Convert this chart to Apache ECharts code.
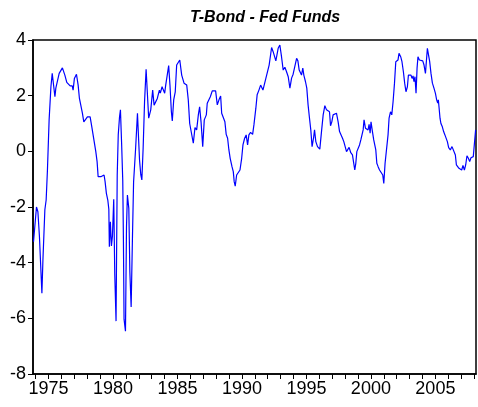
<!DOCTYPE html>
<html>
<head>
  <meta charset="utf-8">
  <title>T-Bond - Fed Funds</title>
  <script src="https://cdn.jsdelivr.net/npm/echarts@6/dist/echarts.min.js"></script>
  <style>
    html, body { margin: 0; padding: 0; background: #fff; }
  </style>
</head>
<body>
  <div id="main" style="width:478px;height:407px;"></div>
  <script type="text/javascript">
    // dates as decimal years, spread in percentage points
    var dates = [
      1973.84, 1974.07, 1974.18, 1974.30, 1974.49, 1974.57, 1974.72, 1974.82, 1974.92, 1975.05,
      1975.19, 1975.29, 1975.36, 1975.50, 1975.57, 1975.70, 1975.83, 1975.96, 1976.08, 1976.27,
      1976.42, 1976.55, 1976.68, 1976.84, 1976.91, 1977.01, 1977.17, 1977.30, 1977.40, 1977.51,
      1977.63, 1977.74, 1977.87, 1978.02, 1978.23, 1978.36, 1978.48, 1978.67, 1978.77, 1978.85,
      1978.95, 1979.06, 1979.21, 1979.31, 1979.39, 1979.49, 1979.60, 1979.68, 1979.72, 1979.80,
      1979.88, 1979.96, 1980.06, 1980.14, 1980.24, 1980.33, 1980.41, 1980.51, 1980.58, 1980.67,
      1980.76, 1980.81, 1980.86, 1980.97, 1981.05, 1981.12, 1981.23, 1981.31, 1981.41, 1981.52,
      1981.60, 1981.68, 1981.75, 1981.83, 1981.90, 1981.98, 1982.06, 1982.16, 1982.24, 1982.34,
      1982.45, 1982.57, 1982.77, 1982.93, 1983.08, 1983.19, 1983.29, 1983.44, 1983.60, 1983.67,
      1983.81, 1983.91, 1984.01, 1984.09, 1984.22, 1984.32, 1984.42, 1984.53, 1984.60, 1984.71,
      1984.83, 1984.94, 1985.07, 1985.18, 1985.33, 1985.51, 1985.72, 1985.84, 1985.95, 1986.05,
      1986.23, 1986.36, 1986.49, 1986.62, 1986.72, 1986.83, 1986.96, 1987.08, 1987.24, 1987.31,
      1987.44, 1987.55, 1987.70, 1987.83, 1987.96, 1988.09, 1988.22, 1988.35, 1988.43, 1988.55,
      1988.68, 1988.78, 1988.89, 1988.99, 1989.09, 1989.23, 1989.33, 1989.40, 1989.48, 1989.59,
      1989.71, 1989.85, 1989.98, 1990.08, 1990.21, 1990.33, 1990.44, 1990.54, 1990.67, 1990.83,
      1990.93, 1991.08, 1991.18, 1991.32, 1991.45, 1991.55, 1991.63, 1991.73, 1991.86, 1991.99,
      1992.11, 1992.22, 1992.30, 1992.42, 1992.53, 1992.63, 1992.73, 1992.81, 1992.94, 1993.07,
      1993.20, 1993.33, 1993.46, 1993.59, 1993.72, 1993.85, 1993.97, 1994.10, 1994.24, 1994.34,
      1994.44, 1994.51, 1994.62, 1994.72, 1994.80, 1994.93, 1995.03, 1995.13, 1995.24, 1995.34,
      1995.44, 1995.55, 1995.63, 1995.73, 1995.86, 1996.04, 1996.17, 1996.30, 1996.43, 1996.56,
      1996.68, 1996.79, 1996.87, 1996.97, 1997.07, 1997.20, 1997.33, 1997.46, 1997.57, 1997.69,
      1997.80, 1997.90, 1998.00, 1998.11, 1998.21, 1998.31, 1998.44, 1998.57, 1998.65, 1998.75,
      1998.83, 1998.91, 1999.01, 1999.12, 1999.22, 1999.32, 1999.40, 1999.47, 1999.58, 1999.68,
      1999.78, 1999.86, 1999.94, 2000.01, 2000.12, 2000.22, 2000.30, 2000.38, 2000.46, 2000.56,
      2000.67, 2000.82, 2000.92, 2001.00, 2001.10, 2001.23, 2001.33, 2001.41, 2001.52, 2001.62,
      2001.72, 2001.83, 2001.93, 2002.01, 2002.10, 2002.18, 2002.31, 2002.41, 2002.52, 2002.62,
      2002.72, 2002.83, 2002.91, 2003.01, 2003.11, 2003.19, 2003.27, 2003.34, 2003.42, 2003.50,
      2003.58, 2003.65, 2003.76, 2003.89, 2004.02, 2004.12, 2004.23, 2004.31, 2004.38, 2004.46,
      2004.56, 2004.66, 2004.77, 2004.89, 2005.00, 2005.10, 2005.18, 2005.23, 2005.28, 2005.36,
      2005.43, 2005.54, 2005.64, 2005.74, 2005.82, 2005.93, 2006.03, 2006.16, 2006.29, 2006.44,
      2006.55, 2006.63, 2006.73, 2006.83, 2006.94, 2007.04, 2007.14, 2007.25, 2007.35, 2007.45,
      2007.56, 2007.66, 2007.76, 2007.87, 2007.94, 2008.04, 2008.12
    ];
    var spread = [
      -3.25, -2.00, -2.17, -3.07, -5.10, -3.90, -2.10, -1.75, -0.67, 1.13,
      2.32, 2.80, 2.83, 1.96, 2.27, 2.20, 2.80, 2.86, 3.00, 2.74,
      2.48, 2.50, 2.35, 2.35, 2.20, 2.62, 2.77, 2.38, 1.90, 1.87,
      1.37, 1.06, 1.13, 1.24, 1.24, 0.88, 0.83, -0.01, -0.37, -0.91,
      -0.97, -0.91, -0.91, -0.85, -1.09, -1.51, -1.75, -2.08, -3.43, -2.53,
      -3.40, -3.04, -1.72, -4.42, -6.10, -0.85, 0.59, 1.24, 1.49, 0.30,
      -1.06, -3.13, -6.03, -6.46, -2.71, -1.57, -2.05, -4.33, -5.59, -2.89,
      -1.09, -0.49, 0.05, 0.11, 1.37, 1.37, -0.31, -0.85, -1.03, 0.11,
      1.78, 2.95, 1.19, 1.49, 2.20, 1.66, 1.60, 1.90, 2.20, 2.09,
      2.32, 2.20, 2.09, 2.38, 2.38, 3.08, 2.38, 1.42, 1.09, 1.85,
      2.14, 3.10, 3.04, 3.28, 2.74, 2.45, 2.38, 1.85, 1.00, 1.04,
      0.29, 0.85, 0.77, 1.31, 1.60, 1.06, 0.17, 1.13, 1.31, 1.73,
      1.67, 1.96, 2.17, 2.24, 2.17, 1.67, 1.85, 1.99, 1.37, 1.31,
      1.06, 0.61, 0.47, 0.05, -0.25, -0.55, -0.73, -1.09, -1.25, -0.85,
      -0.79, -0.67, -0.25, 0.23, 0.47, 0.59, 0.23, 0.59, 0.68, 0.61,
      0.95, 1.55, 2.03, 2.20, 2.38, 2.41, 2.20, 2.27, 2.63, 2.68,
      3.10, 3.46, 3.73, 3.58, 3.56, 3.25, 3.22, 3.70, 3.82, 3.40,
      2.92, 3.02, 2.86, 2.68, 2.27, 2.63, 2.77, 2.74, 3.34, 3.25,
      2.92, 2.99, 2.74, 2.99, 2.74, 2.50, 2.27, 1.67, 1.19, 0.77,
      0.17, 0.47, 0.77, 0.35, 0.17, 0.08, 0.71, 1.31, 1.64, 1.49,
      1.52, 1.42, 0.92, 1.06, 1.31, 1.24, 1.37, 1.06, 0.71, 0.71,
      0.47, 0.35, 0.35, -0.01, 0.05, 0.14, -0.05, -0.13, -0.37, -0.67,
      -0.43, -0.01, 0.05, 0.23, 0.41, 0.47, 0.77, 1.13, 0.83, 0.88,
      0.77, 0.97, 0.65, 1.06, 0.71, 0.41, 0.23, 0.05, -0.43, -0.55,
      -0.67, -0.73, -0.85, -1.15, -0.43, -0.37, 0.59, 1.19, 1.42, 1.31,
      1.78, 2.45, 3.22, 3.16, 3.28, 3.52, 3.40, 3.22, 2.86, 2.45,
      2.14, 2.32, 2.74, 2.80, 2.74, 2.62, 2.71, 2.50, 2.68, 2.09,
      2.99, 3.40, 3.28, 3.28, 3.25, 3.10, 2.80, 3.28, 3.70, 3.67,
      3.22, 2.80, 2.45, 2.27, 2.09, 1.85, 1.73, 1.85, 1.60, 1.19,
      1.00, 0.88, 0.71, 0.59, 0.65, 0.35, 0.13, 0.05, 0.17, 0.13,
      -0.13, -0.49, -0.55, -0.61, -0.55, -0.67, -0.51, -0.67, -0.49, -0.16,
      -0.25, -0.37, -0.23, -0.28, -0.19, -0.13, 0.77
    ];
    var yearTicks = [];
    for (var y = 1974; y <= 2008; y++) yearTicks.push(y);
    var yearLabels = [1975, 1980, 1985, 1990, 1995, 2000, 2005];

    var points = dates.map(function (d, i) { return [d, spread[i]]; });

    var myChart = echarts.init(document.getElementById('main'));
    var labelFont = { color: '#000', fontSize: 18, fontFamily: 'Liberation Sans, Arial, sans-serif' };

    var option = {
      animation: false,
      backgroundColor: '#fff',
      title: {
        text: 'T-Bond - Fed Funds',
        left: 260,
        top: 5,
        textAlign: 'center',
        textStyle: {
          color: '#000',
          fontSize: 16,
          fontWeight: 'bold',
          fontStyle: 'italic',
          fontFamily: 'Liberation Sans, Arial, sans-serif'
        }
      },
      grid: {
        left: 33, right: 2, top: 40, bottom: 33,
        show: true, borderColor: '#000', borderWidth: 1.5,
        backgroundColor: 'transparent'
      },
      xAxis: {
        type: 'value',
        min: 1973.8,
        max: 2008.15,
        axisLine: { onZero: false, lineStyle: { color: '#000', width: 1.5 } },
        axisTick: { show: true, length: 5, customValues: yearTicks, lineStyle: { color: '#000' } },
        axisLabel: Object.assign({
          margin: 6,
          customValues: yearLabels,
          formatter: function (v) { return String(Math.round(v)); }
        }, labelFont),
        splitLine: { show: false }
      },
      yAxis: {
        type: 'value',
        min: -8,
        max: 4,
        interval: 2,
        axisLine: { show: true, onZero: false, lineStyle: { color: '#000', width: 1.5 } },
        axisTick: { show: true, length: 5, lineStyle: { color: '#000' } },
        axisLabel: Object.assign({ margin: 7 }, labelFont),
        splitLine: { show: false }
      },
      series: [{
        type: 'line',
        data: points,
        showSymbol: false,
        symbol: 'none',
        lineStyle: { color: '#0000ff', width: 1.2 }
      }]
    };
    myChart.setOption(option);
  </script>
</body>
</html>
